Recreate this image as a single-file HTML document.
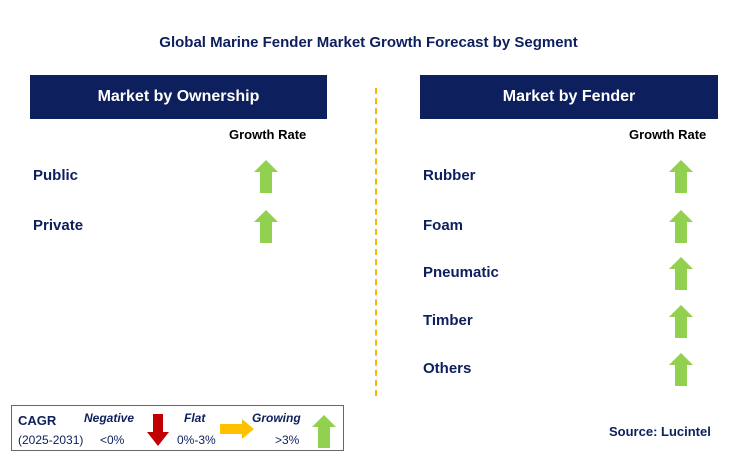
<!DOCTYPE html>
<html><head><meta charset="utf-8"><style>
body{margin:0;width:737px;height:472px;background:#fff;font-family:"Liberation Sans",Arial,sans-serif;position:relative;overflow:hidden}
.a{position:absolute}
.hdr{position:absolute;background:#0d1f5c;color:#fff;font-weight:bold;font-size:16px;text-align:center;line-height:44px;height:44px;top:75px}
.lbl{position:absolute;font-weight:bold;font-size:15px;color:#0d1f5c}
.gr{position:absolute;font-weight:bold;font-size:13px;color:#000}
</style></head><body>
<div class="a" style="left:0;width:737px;top:34px;text-align:center;font-weight:bold;font-size:15px;color:#0d1f5c">Global Marine Fender Market Growth Forecast by Segment</div>
<div class="hdr" style="left:30px;width:297px">Market by Ownership</div>
<div class="hdr" style="left:420px;width:298px">Market by Fender</div>
<div class="gr" style="left:229px;top:127px">Growth Rate</div>
<div class="gr" style="left:629px;top:127px">Growth Rate</div>
<div class="a" style="left:375px;top:88px;height:308px;border-left:2px dashed #f5b800"></div>
<div id="rows"></div>
<div class="a" style="left:11px;top:405px;width:333px;height:46px;border:1px solid #666;box-sizing:border-box;font-size:12px;color:#0d1f5c">
<div class="a" style="left:6px;top:7px;font-weight:bold;font-size:13px">CAGR</div>
<div class="a" style="left:6px;top:27px;font-size:12px">(2025-2031)</div>
<div class="a" style="left:72px;top:5px;font-weight:bold;font-style:italic">Negative</div>
<div class="a" style="left:88px;top:27px">&lt;0%</div>
<svg class="a" style="left:135px;top:8px" width="22" height="32"><polygon points="6,0 16,0 16,18 22,18 11,32 0,18 6,18" fill="#c00000"/></svg>
<div class="a" style="left:172px;top:5px;font-weight:bold;font-style:italic">Flat</div>
<div class="a" style="left:165px;top:27px">0%-3%</div>
<svg class="a" style="left:208px;top:13px" width="34" height="20"><polygon points="0,5 22,5 22,0 34,10 22,20 22,15 0,15" fill="#ffc000"/></svg>
<div class="a" style="left:240px;top:5px;font-weight:bold;font-style:italic">Growing</div>
<div class="a" style="left:263px;top:27px">&gt;3%</div>
<svg class="a" style="left:300px;top:9px" width="24" height="33"><polygon points="12,0 24,12 18,12 18,33 6,33 6,12 0,12" fill="#92d050"/></svg>
</div>
<div class="a" style="left:609px;top:424px;font-weight:bold;font-size:13px;color:#0d1f5c">Source: Lucintel</div>
<script>
const leftRows=["Public","Private"];
const leftY=[176,226];
const rightRows=["Rubber","Foam","Pneumatic","Timber","Others"];
const rightY=[176,226,273,321,369];
const c=document.getElementById('rows');
function row(name,y,lx,ax){
 const d=document.createElement('div');d.className='lbl';d.style.left=lx+'px';d.style.top=(y-9)+'px';d.textContent=name;
 
 
 c.appendChild(d);
 const s=document.createElementNS('http://www.w3.org/2000/svg','svg');
 s.setAttribute('width','24');s.setAttribute('height','33');
 s.style.position='absolute';s.style.left=(ax-12)+'px';s.style.top=(y-16)+'px';
 s.innerHTML='<polygon points="12,0 24,12 18,12 18,33 6,33 6,12 0,12" fill="#92d050"/>';
 
 
 c.appendChild(s);
}
leftRows.forEach((n,i)=>row(n,leftY[i],33,266));
rightRows.forEach((n,i)=>row(n,rightY[i],423,681));
</script>
</body></html>
